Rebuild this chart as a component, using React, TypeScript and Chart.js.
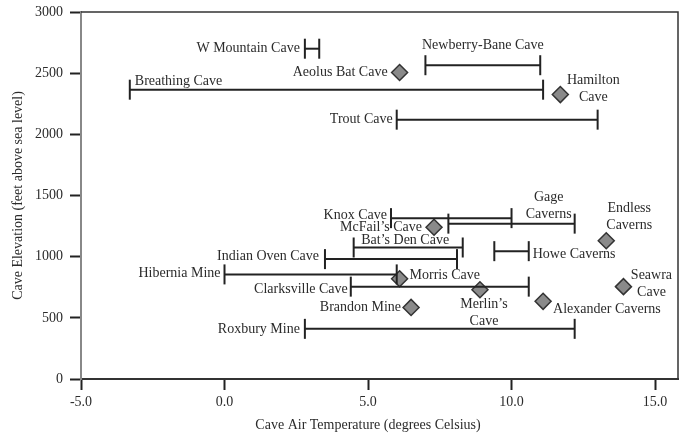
import React, { useEffect, useRef } from "react";
import { Chart, registerables } from "chart.js";

Chart.register(...registerables);

// ---- Data ----
const rangeNames = [
  "W Mountain Cave",
  "Newberry-Bane Cave",
  "Breathing Cave",
  "Trout Cave",
  "Knox Cave",
  "Gage Caverns",
  "Bat\u2019s Den Cave",
  "Howe Caverns",
  "Indian Oven Cave",
  "Hibernia Mine",
  "Clarksville Cave",
  "Roxbury Mine",
];
const rangeMin = [2.8, 7.0, -3.3, 6.0, 5.8, 7.8, 4.5, 9.4, 3.5, 0.0, 4.4, 2.8];
const rangeMax = [3.3, 11.0, 11.1, 13.0, 10.0, 12.2, 8.3, 10.6, 8.1, 6.0, 10.6, 12.2];
const rangeElev = [2700, 2565, 2365, 2120, 1315, 1270, 1075, 1045, 980, 855, 755, 410];

const pointNames = [
  "Aeolus Bat Cave",
  "Hamilton Cave",
  "McFail\u2019s Cave",
  "Endless Caverns",
  "Morris Cave",
  "Merlin\u2019s Cave",
  "Seawra Cave",
  "Brandon Mine",
  "Alexander Caverns",
];
const pointTemp = [6.1, 11.7, 7.3, 13.3, 6.1, 8.9, 13.9, 6.5, 11.1];
const pointElev = [2505, 2325, 1240, 1130, 820, 730, 755, 585, 635];

const xTicks = [-5, 0, 5, 10, 15];
const yTicks = [0, 500, 1000, 1500, 2000, 2500, 3000];

const xTitle = "Cave Air Temperature (degrees Celsius)";
const yTitle = "Cave Elevation (feet above sea level)";

// ---- Label placement (pixel offsets, styling only) ----
type Place = { anchor?: "min" | "max" | "center"; dx: number; dy: number; align: CanvasTextAlign; wrap?: boolean };
const rangeLabelPlace: Place[] = [
  { anchor: "min", dx: -5, dy: 0, align: "right" },
  { anchor: "center", dx: 0, dy: -20, align: "center" },
  { anchor: "min", dx: 5, dy: -8, align: "left" },
  { anchor: "min", dx: -4, dy: 0, align: "right" },
  { anchor: "min", dx: -4, dy: -3, align: "right" },
  { anchor: "max", dx: -26, dy: -26, align: "center", wrap: true },
  { anchor: "center", dx: -3, dy: -7, align: "center" },
  { anchor: "max", dx: 4, dy: 3, align: "left" },
  { anchor: "min", dx: -6, dy: -3, align: "right" },
  { anchor: "min", dx: -4, dy: -1, align: "right" },
  { anchor: "min", dx: -3, dy: 3, align: "right" },
  { anchor: "min", dx: -5, dy: 0, align: "right" },
];
const pointLabelPlace: Place[] = [
  { dx: -12, dy: 0, align: "right" },
  { dx: 33, dy: -14, align: "center", wrap: true },
  { dx: -12, dy: 0, align: "right" },
  { dx: 23, dy: -32, align: "center", wrap: true },
  { dx: 10, dy: -3, align: "left" },
  { dx: 4, dy: 15, align: "center", wrap: true },
  { dx: 28, dy: -11, align: "center", wrap: true },
  { dx: -10, dy: 0, align: "right" },
  { dx: 10, dy: 8, align: "left" },
];

const FONT = '"Liberation Serif", "Times New Roman", serif';
const TEXT = "#2b2b2b";
const LINE = "#222";

const labelPlugin = {
  id: "caveLabels",
  afterDatasetsDraw(chart: any) {
    const { ctx, scales, chartArea } = chart;
    const xs = scales.x;
    const ys = scales.y;
    ctx.save();
    // frame top/right
    ctx.strokeStyle = "#333";
    ctx.lineWidth = 1.5;
    ctx.beginPath();
    ctx.moveTo(chartArea.left, chartArea.top);
    ctx.lineTo(chartArea.right, chartArea.top);
    ctx.lineTo(chartArea.right, chartArea.bottom);
    ctx.stroke();

    ctx.font = `14px ${FONT}`;
    ctx.fillStyle = TEXT;
    ctx.textBaseline = "middle";
    const draw = (text: string, px: number, py: number, p: Place) => {
      const lines = p.wrap ? text.split(" ") : [text];
      ctx.textAlign = p.align;
      lines.forEach((ln, i) => ctx.fillText(ln, px + p.dx, py + p.dy + i * 17));
    };
    rangeNames.forEach((name, i) => {
      const p = rangeLabelPlace[i];
      const v = p.anchor === "min" ? rangeMin[i] : p.anchor === "max" ? rangeMax[i] : (rangeMin[i] + rangeMax[i]) / 2;
      draw(name, xs.getPixelForValue(v), ys.getPixelForValue(rangeElev[i]), p);
    });
    pointNames.forEach((name, i) => {
      draw(name, xs.getPixelForValue(pointTemp[i]), ys.getPixelForValue(pointElev[i]), pointLabelPlace[i]);
    });

    // axis titles
    ctx.textAlign = "center";
    ctx.fillText(xTitle, 368, 425);
    ctx.translate(18, (chartArea.top + chartArea.bottom) / 2);
    ctx.rotate(-Math.PI / 2);
    ctx.fillText(yTitle, 0, 0);
    ctx.restore();
  },
};

export default function App() {
  const ref = useRef<HTMLCanvasElement | null>(null);
  useEffect(() => {
    if (!ref.current) return;
    const rangeSets = rangeNames.map((name, i) => ({
      type: "scatter" as const,
      label: name,
      data: [
        { x: rangeMin[i], y: rangeElev[i] },
        { x: rangeMax[i], y: rangeElev[i] },
      ],
      showLine: true,
      borderColor: LINE,
      borderWidth: 2,
      pointStyle: "line" as const,
      pointRotation: 90,
      pointRadius: 10,
      pointBorderWidth: 2,
      pointBorderColor: LINE,
      pointBackgroundColor: LINE,
    }));
    const pointSet = {
      type: "scatter" as const,
      label: "Caves",
      data: pointTemp.map((t, i) => ({ x: t, y: pointElev[i] })),
      pointStyle: "rectRot" as const,
      pointRadius: 8,
      backgroundColor: "#8a8a8a",
      borderColor: "#333",
      borderWidth: 1.5,
    };
    const chart = new Chart(ref.current, {
      type: "scatter",
      data: { datasets: [...rangeSets, pointSet] as any },
      options: {
        animation: false,
        responsive: false,
        events: [],
        layout: { padding: { top: 11, right: 11, left: 0, bottom: 0 } },
        plugins: { legend: { display: false }, tooltip: { enabled: false } },
        scales: {
          x: {
            type: "linear",
            min: -5,
            max: 15.8,
            afterBuildTicks: (s: any) => {
              s.ticks = xTicks.map((v) => ({ value: v }));
            },
            afterFit: (s: any) => {
              s.height = 58;
              s.paddingLeft = 0;
              s.paddingRight = 0;
            },
            ticks: {
              callback: (v: any) => Number(v).toFixed(1),
              font: { family: FONT, size: 14 },
              color: TEXT,
              padding: 4,
              maxRotation: 0,
            },
            grid: { drawOnChartArea: false, drawTicks: true, tickLength: 11, tickWidth: 2, tickColor: LINE },
            border: { display: true, color: "#333", width: 2 },
          },
          y: {
            type: "linear",
            min: 0,
            max: 3000,
            afterBuildTicks: (s: any) => {
              s.ticks = yTicks.map((v) => ({ value: v }));
            },
            afterFit: (s: any) => {
              s.width = 81;
              s.paddingTop = 0;
              s.paddingBottom = 0;
            },
            ticks: {
              callback: (v: any) => String(v),
              font: { family: FONT, size: 14 },
              color: TEXT,
              padding: 7,
            },
            grid: { drawOnChartArea: false, drawTicks: true, tickLength: 11, tickWidth: 2, tickColor: LINE },
            border: { display: true, color: "#888", width: 2 },
          },
        },
      },
      plugins: [labelPlugin],
    });
    return () => chart.destroy();
  }, []);
  return (
    <div style={{ position: "fixed", left: 0, top: 0, width: 690, height: 437, background: "#fff" }}>
      <canvas ref={ref} width={690} height={437} style={{ width: 690, height: 437 }} />
    </div>
  );
}
